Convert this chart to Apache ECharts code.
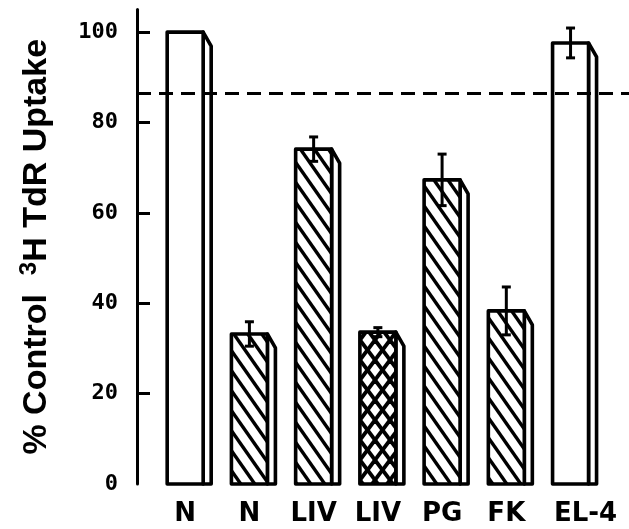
<!DOCTYPE html>
<html>
<head>
<meta charset="utf-8">
<script src="https://cdn.jsdelivr.net/npm/echarts@6/dist/echarts.min.js"></script>
<style>html,body{margin:0;padding:0;background:#fff}#c{width:629px;height:529px}</style>
</head>
<body>
<div id="c"></div>
<script>
const categories = ['N', 'N', 'LIV', 'LIV', 'PG', 'FK', 'EL-4'];
const uptake = [100, 33.2, 74.1, 33.6, 67.3, 38.3, 97.6];
const uptakeErr = [0, 2.7, 2.7, 1.0, 5.7, 5.3, 3.3];
const fillKind = ['plain', 'hatch', 'hatch', 'cross', 'hatch', 'hatch', 'plain'];
const referenceLevel = 86.5;
const yLabelValues = [0, 20, 40, 60, 80, 100];
const yTickValues = [20, 40, 60, 80, 100];

function makeHatch(cross) {
  const W = cross ? 15 : 14, H = 20;
  const c = document.createElement('canvas');
  c.width = W; c.height = H;
  const g = c.getContext('2d');
  g.fillStyle = '#fff'; g.fillRect(0, 0, W, H);
  g.strokeStyle = '#000'; g.lineWidth = cross ? 3.8 : 3.4; g.lineCap = 'butt';
  for (let k = -1; k <= 1; k++) {
    g.beginPath(); g.moveTo(k * W - W, -H); g.lineTo(k * W + 2 * W, 2 * H); g.stroke();
    if (cross) { g.beginPath(); g.moveTo(k * W + 2 * W, -H); g.lineTo(k * W - W, 2 * H); g.stroke(); }
  }
  return c;
}
const patterns = { hatch: makeHatch(false), cross: makeHatch(true) };

const data = categories.map((c, i) => [i, uptake[i], uptakeErr[i], i]);

const chart = echarts.init(document.getElementById('c'), null, { renderer: 'canvas' });
chart.setOption({
  backgroundColor: '#fff',
  animation: false,
  grid: { left: 137, right: 0, top: 9.5, bottom: 45 },
  xAxis: {
    type: 'value', min: -0.75, max: 6.91,
    axisLine: { show: false, onZero: false }, axisTick: { show: false }, splitLine: { show: false },
    axisLabel: {
      customValues: categories.map((c, i) => i),
      formatter: v => {
        const i = Math.round(v);
        return i === categories.length - 1 ? '{e|' + categories[i] + '}' : categories[i];
      },
      margin: 17,
      fontFamily: 'DejaVu Sans', fontWeight: 'bold', fontSize: 26, color: '#000',
      rich: { e: { fontFamily: 'DejaVu Sans', fontWeight: 'bold', fontSize: 26, color: '#000', padding: [0, 0, 0, 30] } }
    }
  },
  yAxis: {
    type: 'value', min: 0, max: 105, interval: 20,
    splitLine: { show: false },
    axisLine: { show: true, onZero: false, lineStyle: { color: '#000', width: 3 } },
    axisTick: { show: true, inside: true, length: 13, customValues: yTickValues, lineStyle: { color: '#000', width: 3 } },
    axisLabel: {
      customValues: yLabelValues, margin: 19,
      fontFamily: 'DejaVu Sans Mono', fontWeight: 'bold', fontSize: 22, color: '#000'
    },
    name: '% Control  {s|3}H TdR Uptake',
    nameLocation: 'middle', nameGap: 80,
    nameTextStyle: {
      fontFamily: 'Liberation Sans', fontWeight: 'bold', fontSize: 34, color: '#000',
      rich: { s: { fontFamily: 'Liberation Sans', fontWeight: 'bold', fontSize: 24, color: '#000', padding: [0, 0, 16, 0] } }
    }
  },
  series: [{
    type: 'custom',
    data: data,
    clip: false,
    renderItem: function (params, api) {
      const i = api.value(0), v = api.value(1), e = api.value(2), k = api.value(3);
      const top = api.coord([i, v]);
      const base = api.coord([i, 0]);
      const unit = api.size([1, 0])[0];
      const w = unit * 0.56;
      const xl = top[0] - w / 2, xr = top[0] + w / 2;
      const sw = unit * 0.125, sd = 14;
      const kind = fillKind[k];
      const fill = kind === 'plain' ? '#fff' : { image: patterns[kind], repeat: 'repeat' };
      const stroke = { stroke: '#000', lineWidth: 3.6, lineJoin: 'round' };
      const children = [
        { type: 'polygon', shape: { points: [[xr, top[1]], [xr + sw, top[1] + sd], [xr + sw, base[1]], [xr, base[1]]] },
          style: Object.assign({ fill: '#fff' }, stroke) },
        { type: 'rect', shape: { x: xl, y: top[1], width: w, height: base[1] - top[1] },
          style: Object.assign({ fill: fill }, stroke) }
      ];
      if (e > 0) {
        const hi = api.coord([i, v + e]), lo = api.coord([i, v - e]);
        const cx = top[0], cap = 4.5;
        children.push(
          { type: 'line', shape: { x1: cx, y1: hi[1], x2: cx, y2: lo[1] }, style: { stroke: '#000', lineWidth: 3 } },
          { type: 'line', shape: { x1: cx - cap, y1: hi[1], x2: cx + cap, y2: hi[1] }, style: { stroke: '#000', lineWidth: 3 } },
          { type: 'line', shape: { x1: cx - cap, y1: lo[1], x2: cx + cap, y2: lo[1] }, style: { stroke: '#000', lineWidth: 3 } }
        );
      }
      return { type: 'group', children: children };
    },
    markLine: {
      silent: true, symbol: 'none',
      label: { show: false },
      lineStyle: { color: '#000', width: 3, type: [14, 8] },
      data: [{ yAxis: referenceLevel }]
    }
  }]
});
</script>
</body>
</html>
